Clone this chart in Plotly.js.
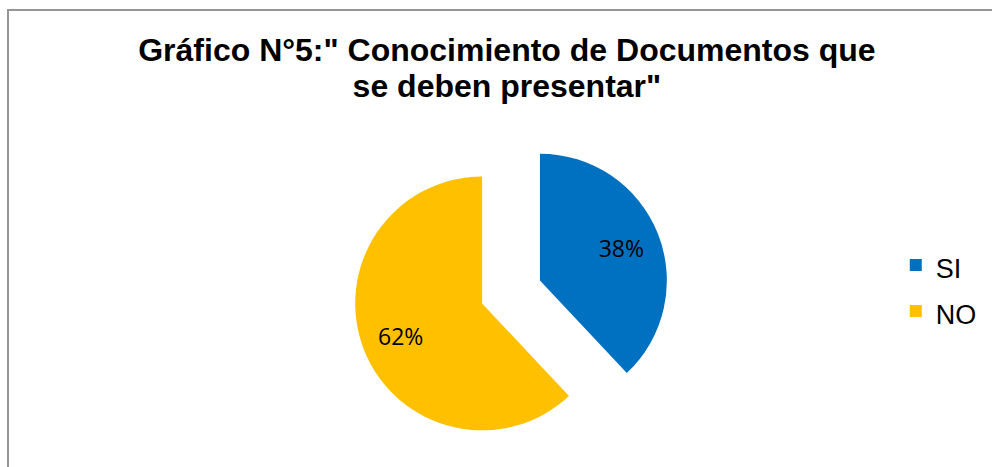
<!DOCTYPE html>
<html>
<head>
<meta charset="utf-8">
<script src="https://cdn.plot.ly/plotly-3.0.1.min.js"></script>
<style>
  html, body { margin: 0; padding: 0; background: #ffffff; }
  #wrap { position: relative; width: 992px; height: 467px; overflow: hidden; }
  #chart { width: 992px; height: 467px; }
  #frame { position: absolute; left: 7px; top: 9px; width: 1200px; height: 600px;
           border-top: 2px solid #969696; border-left: 2px solid #969696; pointer-events: none; }
</style>
</head>
<body>
<div id="wrap">
  <div id="chart"></div>
  <div id="frame"></div>
</div>
<script>
const titleLines = ['Gráfico N°5:" Conocimiento de Documentos que', 'se deben presentar"'];
const categories = ['SI', 'NO'];
const values = [38, 62];
const colors = ['#0070C0', '#FFC000'];

const legendLabels = categories.map(c => '<span style="font-size:27px">' + c + '</span>');
const titleText = titleLines.map(t => '<span style="font-size:32px">' + t + '</span>').join('<br>');

const pullAmt = [0.245, 0.245];
const dom = { x: [0.3729, 0.7729], y: [0, 1] };

const pieMain = {
  type: 'pie',
  labels: legendLabels,
  values: values,
  sort: false,
  direction: 'clockwise',
  rotation: 0,
  pull: pullAmt,
  domain: dom,
  marker: { colors: colors, line: { width: 0 } },
  textinfo: 'none',
  hoverinfo: 'label+percent',
  showlegend: true
};

const pieText = {
  type: 'pie',
  labels: legendLabels,
  values: values,
  sort: false,
  direction: 'clockwise',
  rotation: 0,
  pull: pullAmt,
  domain: dom,
  hole: 0.38,
  marker: { colors: ['rgba(0,0,0,0)', 'rgba(0,0,0,0)'], line: { width: 0 } },
  textinfo: 'percent',
  textposition: 'inside',
  insidetextorientation: 'horizontal',
  textfont: { family: 'Open Sans, Noto Sans, sans-serif', size: 23, color: '#000000' },
  hoverinfo: 'skip',
  showlegend: false
};

const layout = {
  width: 992,
  height: 467,
  margin: { l: 0, r: 100, t: 134, b: 17, pad: 0 },
  paper_bgcolor: 'rgba(0,0,0,0)',
  plot_bgcolor: 'rgba(0,0,0,0)',
  title: {
    text: titleText,
    font: { family: 'Liberation Sans, Arial, sans-serif', size: 27.7, color: '#000000', weight: 'bold' },
    xref: 'container', yref: 'container',
    x: 0.511, xanchor: 'center',
    y: 0.869, yanchor: 'top'
  },
  showlegend: true,
  legend: {
    xref: 'container', yref: 'container',
    x: 0.903, xanchor: 'left',
    y: 0.383, yanchor: 'middle',
    font: { family: 'Liberation Sans, Arial, sans-serif', size: 33, color: '#000000' },
    bgcolor: 'rgba(0,0,0,0)',
    borderwidth: 0
  }
};

Plotly.newPlot('chart', [pieMain, pieText], layout, { displayModeBar: false, staticPlot: true });
</script>
</body>
</html>
